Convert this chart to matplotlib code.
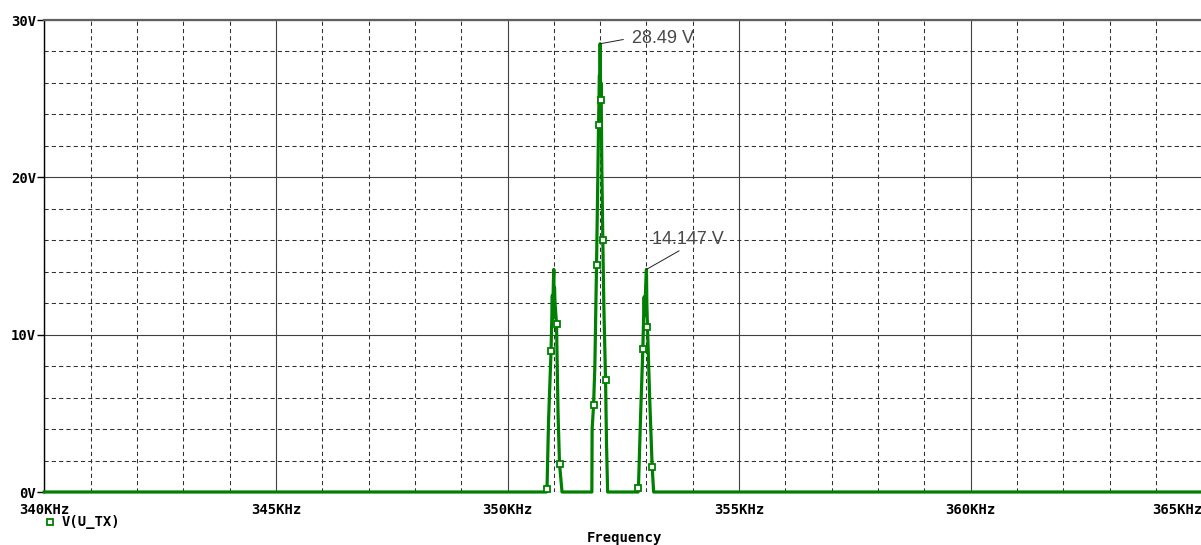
import matplotlib
matplotlib.use('Agg')
import matplotlib.pyplot as plt
from matplotlib.lines import Line2D
from matplotlib.ticker import MultipleLocator
import numpy as np

# V(U_TX) spectrum: carrier at 352 kHz with sidebands at 351 / 353 kHz
freq_khz = [340.0,
            350.842, 350.853, 350.886, 350.940, 350.968, 350.975, 350.990, 351.0,
            351.006, 351.015, 351.026, 351.058, 351.091, 351.123, 351.177,
            351.821, 351.827, 351.858, 351.886, 351.922, 351.950,
            351.965, 351.985, 351.992, 352.0, 352.009, 352.020, 352.037, 352.058, 352.080,
            352.117, 352.138, 352.162,
            352.821, 352.827, 352.875, 352.922, 352.950, 352.961, 352.985, 353.0,
            353.008, 353.022, 353.069, 353.123, 353.155,
            365.0]
volts = [0.0,
         0.0, 0.2, 4.5, 8.96, 12.5, 11.0, 13.3, 14.147,
         11.8, 13.0, 12.0, 10.7, 5.0, 1.78, 0.0,
         0.0, 4.0, 5.5, 8.0, 14.4, 20.0,
         23.3, 26.5, 24.0, 28.49, 24.9, 26.0, 20.5, 16.0, 11.8,
         7.1, 3.0, 0.0,
         0.0, 0.25, 5.0, 9.1, 12.4, 11.2, 13.2, 14.147,
         12.0, 10.5, 6.0, 1.6, 0.0,
         0.0]
# sample points that carry a trace marker
marked = [0,
          0, 1, 0, 1, 0, 0, 0, 0,
          0, 0, 0, 1, 0, 1, 0,
          0, 0, 1, 0, 1, 0,
          1, 0, 0, 0, 1, 0, 0, 1, 0,
          1, 0, 0,
          0, 1, 0, 1, 0, 0, 0, 0,
          0, 1, 0, 1, 0,
          0]
peak_freqs = [352.0, 353.0]

x_ticks = [340, 345, 350, 355, 360, 365]
y_ticks = [0, 10, 20, 30]

green = '#008000'
mono = {'family': 'DejaVu Sans Mono', 'weight': 'bold', 'size': 10}

fig = plt.figure(figsize=(12.01, 5.45), dpi=100)
ax = fig.add_axes([44.3 / 1201, 53 / 545, 1158 / 1201, 472 / 545])

ax.set_xlim(340, 365)
ax.set_ylim(0, 30)
ax.set_xticks(x_ticks, [f'{t}KHz' for t in x_ticks])
ax.set_yticks(y_ticks, [f'{t}V' for t in y_ticks])
ax.xaxis.set_minor_locator(MultipleLocator(1))
ax.yaxis.set_minor_locator(MultipleLocator(2))
for lab in ax.get_xticklabels() + ax.get_yticklabels():
    lab.set_fontproperties(mono)
ax.get_xticklabels()[-1].set_ha('right')

ax.tick_params(axis='x', which='both', length=0, pad=8)
ax.tick_params(axis='y', which='major', length=5, width=1, direction='out', pad=1)
ax.tick_params(axis='y', which='minor', length=0)

ax.grid(which='major', color='#404040', lw=0.8, ls='-')
ax.grid(which='minor', color='#303030', lw=0.75, ls=(0, (4, 3)))
ax.set_axisbelow(True)

ax.spines['top'].set_color('#606060')
ax.spines['top'].set_linewidth(1.6)
ax.spines['left'].set_color('black')
ax.spines['left'].set_linewidth(1.0)
ax.spines['right'].set_visible(False)
ax.spines['bottom'].set_visible(False)

mark_idx = [i for i, m in enumerate(marked) if m]
ax.plot(freq_khz, volts, color=green, lw=2.3, clip_on=False, zorder=3,
        marker='s', markevery=mark_idx, ms=5, mfc='white', mec=green, mew=1.3)

# peak readouts
f_arr = np.array(freq_khz)
v_arr = np.array(volts)
i0 = int(np.argmin(abs(f_arr - peak_freqs[0])))
i1 = int(np.argmin(abs(f_arr - peak_freqs[1])))
lbl_font = {'family': 'Liberation Sans', 'size': 13, 'color': '#484848'}
ax.annotate(f'{v_arr[i0]:g} V', xy=(f_arr[i0], v_arr[i0]), xytext=(352.688, 28.52),
            va='baseline', zorder=4, annotation_clip=False, **lbl_font,
            arrowprops=dict(arrowstyle='-', color='#202020', lw=0.7,
                            relpos=(0, 0.55), shrinkA=4.3, shrinkB=0))
ax.annotate(f'{v_arr[i1]:g} V', xy=(f_arr[i1], v_arr[i1]), xytext=(353.113, 15.76),
            va='baseline', zorder=4, annotation_clip=False, **lbl_font,
            arrowprops=dict(arrowstyle='-', color='#202020', lw=0.7,
                            relpos=(0.45, 0), shrinkA=0, shrinkB=0))

# legend entry and axis title
fig.add_artist(Line2D([50 / 1201], [1 - 522 / 545], transform=fig.transFigure,
                      ls='none', marker='s', ms=5, mfc='white', mec=green, mew=1.3))
fig.text(62 / 1201, 1 - 522 / 545, 'V(U_TX)', ha='left', va='center', fontdict=mono)
fig.text(624 / 1201, 1 - 538 / 545, 'Frequency', ha='center', va='center', fontdict=mono)

fig.savefig('out.png', dpi=100)
